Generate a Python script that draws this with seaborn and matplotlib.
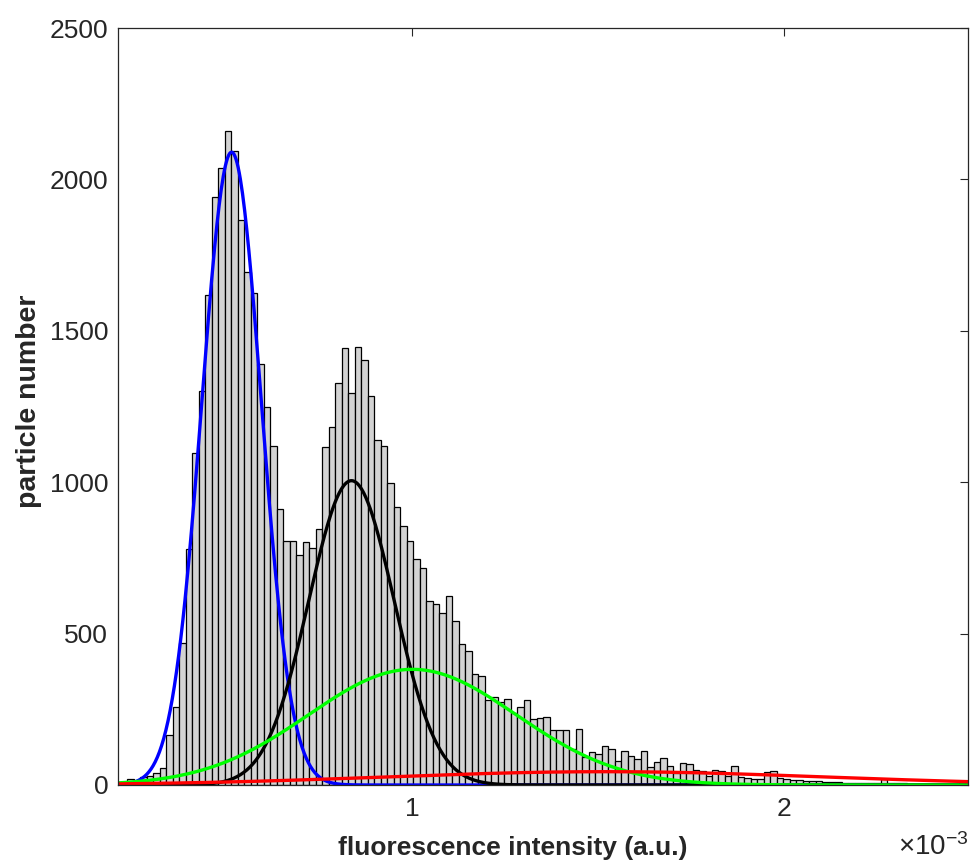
import numpy as np
import pandas as pd
import matplotlib
matplotlib.use("Agg")
import matplotlib.pyplot as plt
import seaborn as sns

# Histogram of particle fluorescence intensity (a.u.)
bin_start = 0.2323e-3
bin_width = 0.0175e-3
counts = [
    19, 14, 26, 30, 38, 55, 164, 256, 470, 779,
    1096, 1300, 1617, 1943, 2039, 2159, 2093, 1867, 1693, 1624,
    1391, 1248, 1120, 910, 807, 807, 759, 801, 784, 844,
    1115, 1181, 1327, 1444, 1293, 1448, 1402, 1286, 1138, 1118,
    996, 919, 856, 805, 746, 718, 608, 599, 569, 623,
    543, 465, 444, 365, 361, 281, 290, 275, 285, 239,
    257, 281, 219, 221, 224, 182, 182, 180, 118, 186,
    94, 110, 101, 130, 120, 80, 111, 96, 87, 111,
    61, 75, 90, 64, 40, 74, 70, 48, 45, 30,
    48, 45, 30, 63, 25, 24, 21, 21, 42, 45,
    22, 19, 16, 15, 14, 13, 12, 10, 11, 9,
    8, 8, 7, 7, 6, 8, 20, 6, 5, 5,
    4, 4, 3, 4, 3, 3, 2, 3, 14, 2,
]

# Gaussian components of the fit: peak height, centre, width
comp_names = ["pop1", "pop2", "pop3", "pop4"]
comp_amp = [2090, 1005, 382, 44]
comp_mu = [0.513e-3, 0.836e-3, 1.00e-3, 1.52e-3]
comp_sigma = [0.080e-3, 0.115e-3, 0.280e-3, 0.590e-3]
comp_color = ["#0000ff", "#000000", "#00ff00", "#ff0000"]

x_lim = (0.207e-3, 2.497e-3)
y_ticks = [0, 500, 1000, 1500, 2000, 2500]
x_ticks = [1e-3, 2e-3]
x_tick_labels = ["1", "2"]

sns.set_style("white")
plt.rcParams["font.family"] = ["Liberation Sans", "DejaVu Sans"]
plt.rcParams["mathtext.fontset"] = "custom"
plt.rcParams["mathtext.rm"] = "Liberation Sans"
plt.rcParams["mathtext.it"] = "Liberation Sans:italic"

axis_col = "#262626"

fig = plt.figure(figsize=(9.72, 8.61), dpi=100)
ax = fig.add_axes([118 / 972, 1 - 785 / 861, (968 - 118) / 972, (785 - 28) / 861])

edges = [bin_start + bin_width * i for i in range(len(counts) + 1)]
centers = [(edges[i] + edges[i + 1]) / 2 for i in range(len(counts))]
hist_df = pd.DataFrame({"intensity": centers, "count": counts})
sns.histplot(data=hist_df, x="intensity", weights="count", bins=edges,
             color="#d3d3d3", edgecolor="black", linewidth=0.9, alpha=1.0, ax=ax)

xs = np.linspace(x_lim[0], x_lim[1], 800)
for name, a, mu, sg, col in zip(comp_names, comp_amp, comp_mu, comp_sigma, comp_color):
    ys = a * np.exp(-0.5 * ((xs - mu) / sg) ** 2)
    sns.lineplot(x=xs, y=ys, color=col, linewidth=2.4, ax=ax,
                 estimator=None, sort=False)

ax.set_xlim(*x_lim)
ax.set_ylim(0, 2500)
ax.set_yticks(y_ticks)
ax.set_xticks(x_ticks)
ax.set_xticklabels(x_tick_labels)
ax.tick_params(direction="in", top=True, right=True, length=6, width=0.8,
               labelsize=19, colors=axis_col)
ax.tick_params(axis="x", pad=9)
ax.tick_params(axis="y", pad=7)
for sp in ax.spines.values():
    sp.set_visible(True)
    sp.set_color(axis_col)
    sp.set_linewidth(0.9)

ax.set_xlabel("fluorescence intensity (a.u.)", fontsize=19, fontweight="bold",
              color=axis_col)
ax.xaxis.set_label_coords(0.4647, -0.068)
ax.set_ylabel("particle number", fontsize=20.5, fontweight="bold",
              color=axis_col)
ax.yaxis.set_label_coords(-0.0894, 0.507)

fig.text(0.997, 0.0, r"$\times10^{-3}$", ha="right", va="bottom",
         fontsize=20, color=axis_col)

fig.savefig("out.png", dpi=100)
